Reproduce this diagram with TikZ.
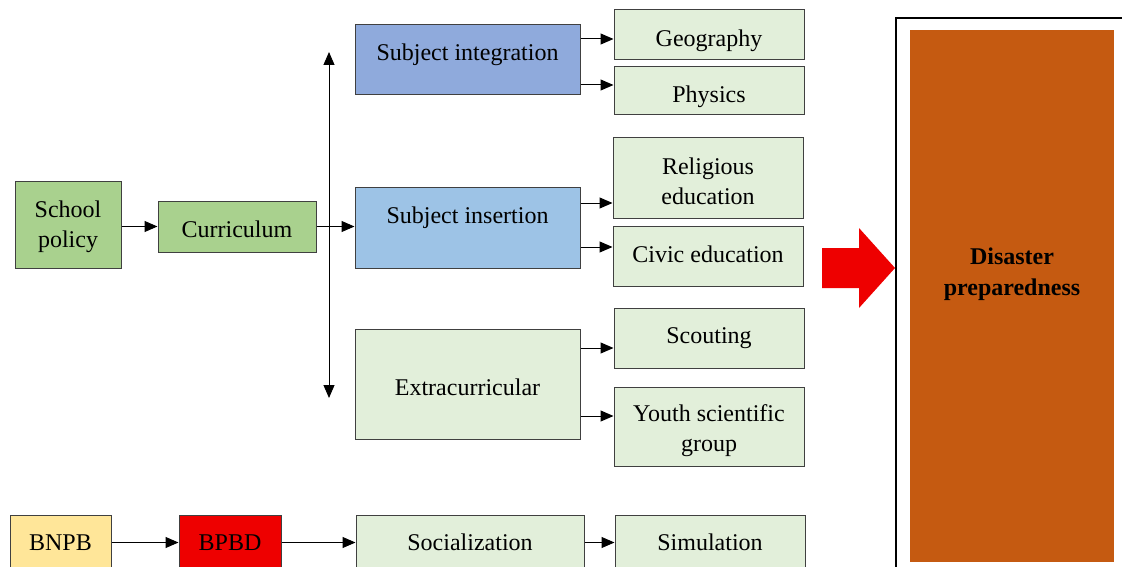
\documentclass[tikz,border=0pt]{standalone}
\usepackage{fontspec}
\setmainfont{Liberation Serif}
\usepackage{xcolor}
\usetikzlibrary{arrows.meta,positioning}
\definecolor{polgreen}{HTML}{A9D18E}
\definecolor{palegreen}{HTML}{E2EFDA}
\definecolor{intblue}{HTML}{8FAADC}
\definecolor{insblue}{HTML}{9DC3E6}
\definecolor{bnpbyellow}{HTML}{FFE699}
\definecolor{bpbdred}{HTML}{EE0000}
\definecolor{prepbrown}{HTML}{C55A11}
\tikzset{box/.style={rectangle,draw=black!75,line width=1pt},
         txt/.style={align=center,inner sep=2pt,font=\fontsize{24}{30}\selectfont}}

\begin{document}
\begin{tikzpicture}[x=1pt,y=-1pt,>={Triangle[length=13pt,width=11pt]},line width=1pt]
    \useasboundingbox (0,0) rectangle (1122,567);
    \clip (0,0) rectangle (1122,567);

    % left chain
    \node[box,fill=polgreen,minimum width=106pt,minimum height=87pt] (pol) at (68,224.5) {};
    \node[txt] (poltext) at (68,226.5) {School\\policy};
    \node[box,fill=polgreen,minimum width=158pt,minimum height=51pt] (curr) at (237,226.5) {};
    \node[txt] (currtext) at (237,229.5) {Curriculum};

    % middle column
    \node[box,fill=intblue,minimum width=225pt,minimum height=70pt] (sint) at (467.5,60) {};
    \node[txt] (sinttext) at (467.5,55) {Subject integration};
    \node[box,fill=insblue,minimum width=225pt,minimum height=81pt] (sins) at (467.5,227.5) {};
    \node[txt] (sinstext) at (467.5,218) {Subject insertion};
    \node[box,fill=palegreen,minimum width=225pt,minimum height=110pt] (extra) at (467.5,384) {};
    \node[txt] (extratext) at (467.5,387) {Extracurricular};

    % right column
    \node[box,fill=palegreen,minimum width=190pt,minimum height=50pt] (geo) at (709,35) {};
    \node[txt] (geotext) at (709,41) {Geography};
    \node[box,fill=palegreen,minimum width=190pt,minimum height=48pt] (phy) at (709,91) {};
    \node[txt] (phytext) at (709,97) {Physics};
    \node[box,fill=palegreen,minimum width=190pt,minimum height=80pt] (rel) at (708,178) {};
    \node[txt] (reltext) at (708,181) {Religious\\education};
    \node[box,fill=palegreen,minimum width=190pt,minimum height=60pt] (civ) at (708,256) {};
    \node[txt] (civtext) at (708,254) {Civic education};
    \node[box,fill=palegreen,minimum width=190pt,minimum height=60pt] (scout) at (709,338) {};
    \node[txt] (scouttext) at (709,338) {Scouting};
    \node[box,fill=palegreen,minimum width=190pt,minimum height=79pt] (youth) at (709,426.5) {};
    \node[txt] (youthtext) at (709,430.5) {Youth scientific\\group};

    % bottom row
    \node[box,fill=bnpbyellow,minimum width=101pt,minimum height=55pt] (bnpb) at (60.5,542.5) {};
    \node[txt] (bnpbtext) at (60.5,542.5) {BNPB};
    \node[box,fill=bpbdred,minimum width=102pt,minimum height=55pt] (bpbd) at (230,542.5) {};
    \node[txt] (bpbdtext) at (230,542.5) {BPBD};
    \node[box,fill=palegreen,minimum width=228pt,minimum height=55pt] (soc) at (470,542.5) {};
    \node[txt] (soctext) at (470,542.5) {Socialization};
    \node[box,fill=palegreen,minimum width=190pt,minimum height=55pt] (sim) at (710,542.5) {};
    \node[txt] (simtext) at (710,542.5) {Simulation};

    % outcome
    \draw[line width=1.2pt] (896,600) -- (896,18) -- (1140,18);
    \fill[prepbrown] (910,30) rectangle (1114,562);
    \node[txt,font=\fontsize{24}{31}\selectfont\bfseries] (prep) at (1012,274) {Disaster\\preparedness};
    \fill[bpbdred] (822,248) -- (859,248) -- (859,228) -- (895,268) -- (859,308) -- (859,288) -- (822,288) -- cycle;

    % connectors
    \coordinate (vtop) at (329,52);
    \coordinate (vbot) at (329,398);
    \draw[<->] (vbot) -- (vtop);
    \draw[->] (pol.east |- curr.east) -- (curr.west);
    \draw[->] (curr.east) -- (sins.west |- curr.east);
    \draw[->] (sint.east |- 0,39) -- (geo.west |- 0,39);
    \draw[->] (sint.east |- 0,85) -- (phy.west |- 0,85);
    \draw[->] (sins.east |- 0,203) -- (rel.west |- 0,203);
    \draw[->] (sins.east |- 0,247) -- (civ.west |- 0,247);
    \draw[->] (extra.east |- 0,348) -- (scout.west |- 0,348);
    \draw[->] (extra.east |- 0,416) -- (youth.west |- 0,416);
    \draw[->] (bnpb.east) -- (bpbd.west);
    \draw[->] (bpbd.east) -- (soc.west);
    \draw[->] (soc.east) -- (sim.west);
\end{tikzpicture}
\end{document}
